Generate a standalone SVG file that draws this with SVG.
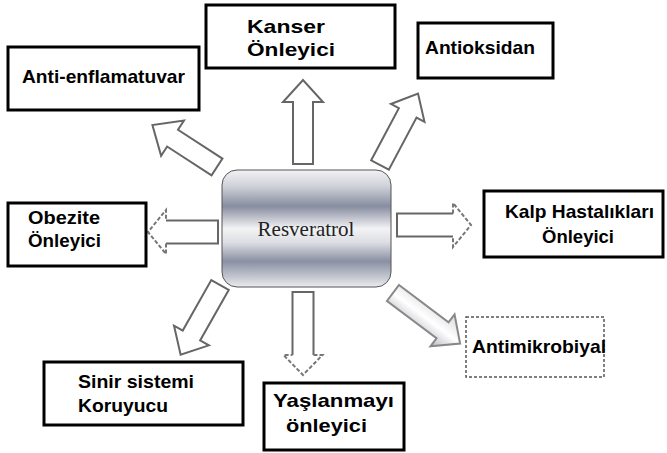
<svg xmlns="http://www.w3.org/2000/svg" width="667" height="453" viewBox="0 0 667 453">
<defs>
<linearGradient id="metal" x1="0" y1="0" x2="0" y2="1">
<stop offset="0" stop-color="#f2f2f4"/>
<stop offset="0.14" stop-color="#cfd1d8"/>
<stop offset="0.31" stop-color="#878da0"/>
<stop offset="0.5" stop-color="#f3f3f5"/>
<stop offset="0.62" stop-color="#dcdee3"/>
<stop offset="0.78" stop-color="#8a90a3"/>
<stop offset="0.92" stop-color="#c6c9d1"/>
<stop offset="1" stop-color="#ececef"/>
</linearGradient>
<linearGradient id="shade" x1="0" y1="0" x2="0" y2="1">
<stop offset="0" stop-color="#d8d9de"/>
<stop offset="0.5" stop-color="#ffffff"/>
<stop offset="1" stop-color="#b8bac2"/>
</linearGradient>
<style>
.box{fill:#fff;stroke:#000;stroke-width:3}
.dbox{fill:#fff;stroke:#555;stroke-width:1.5;stroke-dasharray:3 2}
.t{font-family:"Liberation Sans",Arial,sans-serif;font-weight:bold;font-size:18.5px;fill:#000}
.arr{fill:#fff;stroke:#666;stroke-width:2;stroke-linejoin:miter}
.sh{fill:none;stroke:#666;stroke-width:2}
.dh{fill:none;stroke:#777;stroke-width:2;stroke-dasharray:4 2}
</style>
</defs>
<rect width="667" height="453" fill="#fff"/>

<g id="connectors">
<path class="arr" transform="translate(303,164) rotate(-90)" d="M0,-10 L62,-10 L62,-20 L84,0 L62,20 L62,10 L0,10 Z"/>
<path class="arr" transform="translate(380,165) rotate(-62)" d="M0,-10 L59,-10 L59,-19 L81,0 L59,19 L59,10 L0,10 Z"/>
<path class="arr" transform="translate(217,167) rotate(-147)" d="M0,-10 L53,-10 L53,-21 L77,0 L53,21 L53,10 L0,10 Z"/>
<g transform="translate(218,232) rotate(180)">
<path class="sh" d="M52,-11.5 L0,-11.5 L0,11.5 L52,11.5"/>
<path class="dh" d="M52,-11.5 L52,-22 L70,0 L52,22 L52,11.5"/>
</g>
<g transform="translate(397,225)">
<path class="sh" d="M56,-11.5 L0,-11.5 L0,11.5 L56,11.5"/>
<path class="dh" d="M56,-11.5 L56,-22 L74,0 L56,22 L56,11.5"/>
</g>
<g transform="translate(303,292) rotate(90)">
<path class="sh" d="M63,-10.5 L0,-10.5 L0,10.5 L63,10.5"/>
<path class="dh" d="M63,-10.5 L63,-19.5 L83,0 L63,19.5 L63,10.5"/>
</g>
<path class="arr" transform="translate(220,285) rotate(119.5)" d="M0,-10 L58,-10 L58,-20 L80,0 L58,20 L58,10 L0,10 Z"/>
<path class="arr" style="fill:url(#shade);stroke:#888" transform="translate(393,293) rotate(37)" d="M0,-10 L62,-10 L62,-20 L84,0 L62,20 L62,10 L0,10 Z"/>
</g>

<g id="resveratrol">
<rect x="222" y="170" width="169" height="117" rx="15" fill="url(#metal)" stroke="#555" stroke-width="1"/>
<text x="306" y="236" text-anchor="middle" font-family="'Liberation Serif','Times New Roman',serif" font-size="21" fill="#222">Resveratrol</text>
</g>

<g id="kanser">
<rect class="box" x="206" y="5" width="189" height="63"/>
<text class="t" x="247" y="33" font-size="23" textLength="78" lengthAdjust="spacingAndGlyphs">Kanser</text>
<text class="t" x="247" y="56" font-size="23" textLength="88" lengthAdjust="spacingAndGlyphs">Önleyici</text>
</g>

<g id="antienflamatuvar">
<rect class="box" x="8" y="47" width="191" height="63"/>
<text class="t" x="22" y="83" textLength="163" lengthAdjust="spacingAndGlyphs">Anti-enflamatuvar</text>
</g>

<g id="antioksidan">
<rect class="box" x="418" y="23" width="135" height="55"/>
<text class="t" x="425" y="54" textLength="110" lengthAdjust="spacingAndGlyphs">Antioksidan</text>
</g>

<g id="obezite">
<rect class="box" x="8" y="203" width="138" height="63"/>
<text class="t" x="28" y="224" textLength="72" lengthAdjust="spacingAndGlyphs">Obezite</text>
<text class="t" x="28" y="247" textLength="73" lengthAdjust="spacingAndGlyphs">Önleyici</text>
</g>

<g id="kalp">
<rect class="box" x="484" y="191" width="179" height="66"/>
<text class="t" x="505" y="218" textLength="149" lengthAdjust="spacingAndGlyphs">Kalp Hastalıkları</text>
<text class="t" x="542" y="243" textLength="72" lengthAdjust="spacingAndGlyphs">Önleyici</text>
</g>

<g id="antimikrobiyal">
<rect class="dbox" x="466" y="317" width="138" height="60"/>
<text class="t" x="472" y="353" textLength="134" lengthAdjust="spacingAndGlyphs">Antimikrobiyal</text>
</g>

<g id="sinir">
<rect class="box" x="44" y="362" width="199" height="63"/>
<text class="t" x="78" y="388" textLength="116" lengthAdjust="spacingAndGlyphs">Sinir sistemi</text>
<text class="t" x="78" y="412" textLength="90" lengthAdjust="spacingAndGlyphs">Koruyucu</text>
</g>

<g id="yaslanmayi">
<rect class="box" x="264" y="383" width="140" height="67"/>
<text class="t" x="273" y="407" textLength="121" lengthAdjust="spacingAndGlyphs">Yaşlanmayı</text>
<text class="t" x="286" y="432" textLength="81" lengthAdjust="spacingAndGlyphs">önleyici</text>
</g>
</svg>
